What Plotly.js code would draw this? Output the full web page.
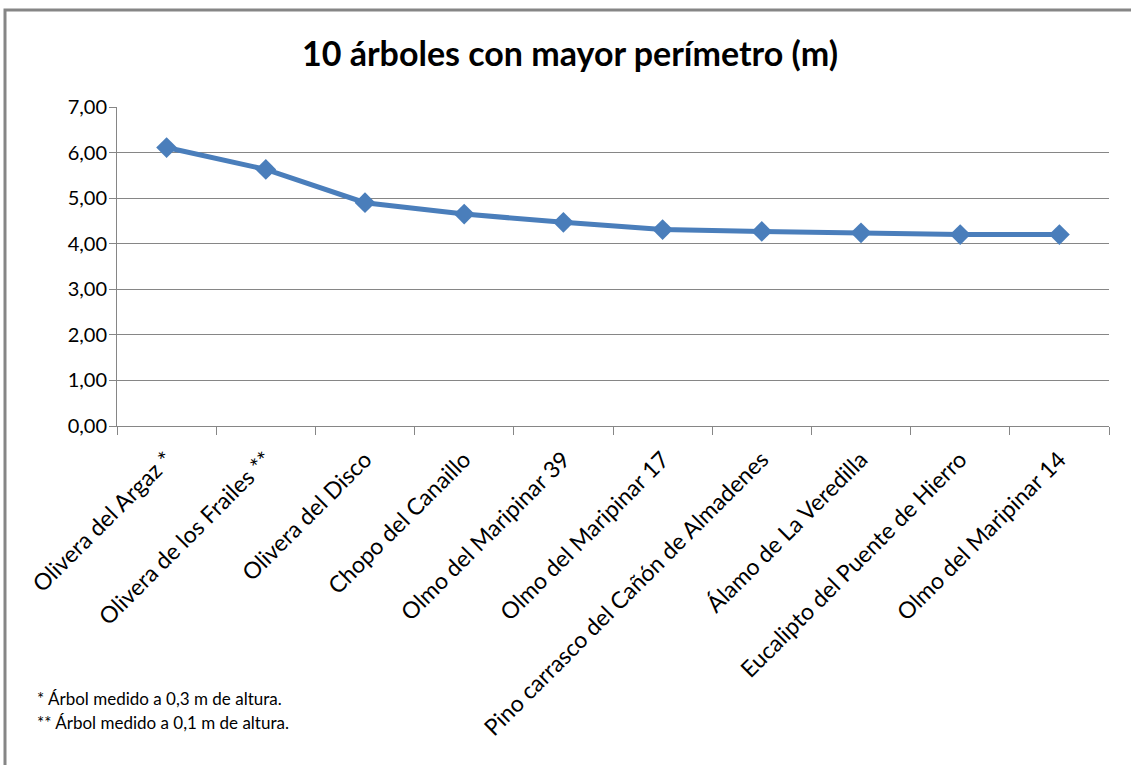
<!DOCTYPE html>
<html>
<head>
<meta charset="utf-8">
<script src="https://cdn.plot.ly/plotly-3.0.1.min.js"></script>
<style>
  html, body { margin: 0; padding: 0; background: #ffffff; }
  #chart { width: 1131px; height: 765px; }
</style>
</head>
<body>
<div id="chart"></div>
<script>
const categories = [
  "Olivera del Argaz *",
  "Olivera de los Frailes **",
  "Olivera del Disco",
  "Chopo del Canaillo",
  "Olmo del Maripinar 39",
  "Olmo del Maripinar 17",
  "Pino carrasco del Cañón de Almadenes",
  "Álamo de La Veredilla",
  "Eucalipto del Puente de Hierro",
  "Olmo del Maripinar 14"
];
const perimeters = [6.11, 5.63, 4.90, 4.65, 4.47, 4.31, 4.27, 4.24, 4.20, 4.20];
const yTickValues = [0, 1, 2, 3, 4, 5, 6, 7];
const yTickLabels = ["0,00", "1,00", "2,00", "3,00", "4,00", "5,00", "6,00", "7,00"];
const chartTitle = "10 árboles con mayor perímetro (m)";
const notes = ["* Árbol medido a 0,3 m de altura.", "** Árbol medido a 0,1 m de altura."];

const font = "Lato, 'Open Sans', 'Liberation Sans', sans-serif";
const W = 1131, H = 765;
const L = 117, R = 1109, T = 107, B = 426;
const pw = R - L, ph = B - T;
const px = v => (v - L) / pw;
const py = v => (B - v) / ph;

const trace = {
  type: "scatter",
  mode: "lines+markers",
  x: categories,
  y: perimeters,
  line: { color: "#4a7ebb", width: 5 },
  marker: { symbol: "diamond", size: 16, color: "#4a7ebb" },
  hoverinfo: "x+y",
  cliponaxis: false
};

const layout = {
  width: W, height: H,
  margin: { l: L, r: W - R, t: T, b: H - B },
  paper_bgcolor: "#ffffff",
  plot_bgcolor: "#ffffff",
  showlegend: false,
  font: { family: font, color: "#000000" },
  title: {
    text: "<b>" + chartTitle + "</b>",
    font: { family: font, size: 34, color: "#000000" },
    xref: "container", x: 570 / W, xanchor: "center",
    yref: "container", y: 1 - 54 / H, yanchor: "middle"
  },
  xaxis: {
    type: "category",
    range: [-0.5, categories.length - 0.5],
    showgrid: false,
    showline: true,
    linecolor: "#868686",
    linewidth: 1,
    ticks: "outside",
    ticklen: 8,
    tickcolor: "#868686",
    tickson: "boundaries",
    tickangle: -45,
    ticklabelstandoff: 10,
    tickfont: { family: font, size: 23, color: "#000000" },
    zeroline: false,
    fixedrange: true
  },
  yaxis: {
    range: [0, 7],
    tickvals: yTickValues,
    ticktext: yTickLabels,
    showgrid: true,
    gridcolor: "#868686",
    gridwidth: 1,
    showline: true,
    linecolor: "#868686",
    linewidth: 1,
    ticks: "outside",
    ticklen: 7,
    tickcolor: "#868686",
    ticklabelstandoff: -2,
    tickfont: { family: font, size: 20, color: "#000000" },
    zeroline: false,
    fixedrange: true
  },
  shapes: [
    {
      type: "path",
      xref: "paper", yref: "paper",
      path: "M " + px(5) + " " + py(H + 5) + " L " + px(5) + " " + py(10) + " L " + px(W + 5) + " " + py(10),
      line: { color: "#868686", width: 3 }
    }
  ],
  annotations: notes.map((t, i) => ({
    text: t,
    xref: "paper", yref: "paper",
    x: px(35), y: py(698 + i * 24),
    xanchor: "left", yanchor: "middle",
    showarrow: false,
    font: { family: font, size: 17, color: "#000000" }
  }))
};

Plotly.newPlot("chart", [trace], layout, { displayModeBar: false, staticPlot: true });
</script>
</body>
</html>
